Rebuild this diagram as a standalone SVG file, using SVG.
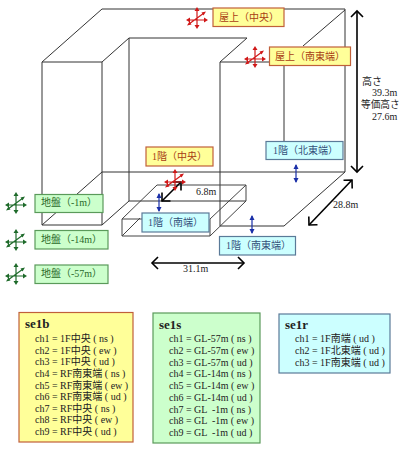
<svg xmlns="http://www.w3.org/2000/svg" width="400" height="451" viewBox="0 0 400 451">
<style>
text{font-family:"Liberation Serif","Noto Sans CJK JP",serif;font-size:10px;white-space:pre;fill:#222}
.b{fill:none;stroke:#333;stroke-width:1}
.f{fill:none;stroke:#444;stroke-width:1}
.dim{fill:none;stroke:#000;stroke-width:1.6;marker-start:url(#open);marker-end:url(#open)}
.y rect{fill:#ffff99;stroke:#c0603a;stroke-width:1.2}
.y text{fill:#a83c14}
.g rect{fill:#ccffcc;stroke:#5a9a5a;stroke-width:1.2}
.g text{fill:#2a6a2a}
.c rect{fill:#ccffff;stroke:#5a7a98;stroke-width:1.2}
.c text{fill:#33507a}
.p text{fill:#222}
.t{font-size:13px;font-weight:bold;fill:#111}
.red{color:#d01818}
.grn{color:#1e6a2a}
.blu{stroke:#1a2fa8;stroke-width:1.2;marker-start:url(#tip);marker-end:url(#tip)}
</style>
<defs>
<marker id="open" markerUnits="userSpaceOnUse" markerWidth="16" markerHeight="16" refX="8" refY="8" viewBox="0 0 16 16" orient="auto-start-reverse"><path d="M2 2L8 8L2 14" fill="none" stroke="#000" stroke-width="1.6"/></marker>
<marker id="tip" markerUnits="userSpaceOnUse" markerWidth="6" markerHeight="6" refX="4" refY="3" viewBox="0 0 6 6" orient="auto-start-reverse"><path d="M0 .5L5 3L0 5.5Z" fill="#1a2fa8"/></marker>
<g id="sensor">
<path d="M0 -9V9M-9 2H9M-8 6L7 -5" fill="none" stroke="currentColor" stroke-width="1.200"/>
<path d="M0 -11L-2.500 -7H2.500ZM0 11L-2.500 7H2.500ZM-11 2L-7 -.5V4.500ZM11 2L7 -.5V4.500ZM-10 7.500L-7.500 3.500L-5.500 6.500ZM9 -6.500L4.500 -5.500L6.500 -2.500Z" fill="currentColor"/>
</g>
</defs>
<g id="connectors">
<path class="b" d="M42 225V62L102 9H345V172L284 226H220V62H269M42 62H102V225H42M102 62L129 38H247L220 62M303 46L345 10M284 65V141M129 38V201M102 172H345M42 225L102 172M102 225L129 201H246"/>
<path class="f" d="M157 185H246V201L210 236H122V219L157 185M122 219H142M246 185L210 219M210 219V236M140 218L122 236"/>
<line class="dim" x1="357" y1="11" x2="357" y2="172"/>
<line class="dim" x1="352" y1="180" x2="309" y2="225"/>
<line class="dim" x1="152" y1="263" x2="244" y2="263"/>
<line class="dim" x1="181" y1="182" x2="162" y2="201"/>
</g>
<g id="dimensions">
<text x="362" y="85">高さ</text>
<text x="372" y="96">39.3m</text>
<text x="361" y="108" style="font-size:9.700px">等価高さ</text>
<text x="372" y="120">27.6m</text>
<text x="333" y="208">28.8m</text>
<text x="183" y="272">31.1m</text>
<text x="196" y="195">6.8m</text>
</g>
<g id="n-roof-center" class="y"><use href="#sensor" class="red" x="197" y="18"/><rect x="213" y="8" width="71" height="18.500"/><text x="219" y="21">屋上（中央）</text></g>
<g id="n-roof-se" class="y"><use href="#sensor" class="red" x="255" y="57"/><rect x="269.500" y="47" width="81" height="18.500"/><text x="275" y="60">屋上（南東端）</text></g>
<g id="n-1f-center" class="y"><use href="#sensor" class="red" x="175" y="180"/><rect x="146" y="147" width="67" height="19"/><text x="152" y="160">1階（中央）</text></g>
<g id="n-1f-ne" class="c"><rect x="266" y="141.500" width="77" height="18"/><text x="273" y="154">1階（北東端）</text><line class="blu" x1="296" y1="165" x2="296" y2="182"/></g>
<g id="n-1f-se" class="c"><rect x="219.500" y="236.500" width="76" height="18.500"/><text x="226" y="249">1階（南東端）</text><line class="blu" x1="252" y1="216" x2="252" y2="233"/></g>
<g id="n-1f-s" class="c"><rect x="142" y="213" width="67" height="19"/><text x="148" y="226">1階（南端）</text><line class="blu" x1="159" y1="194" x2="159" y2="211"/></g>
<g id="n-gl1" class="g"><use href="#sensor" class="grn" x="16" y="203"/><rect x="35" y="194.500" width="68" height="18"/><text x="41" y="206">地盤（-1m）</text></g>
<g id="n-gl14" class="g"><use href="#sensor" class="grn" x="16" y="240"/><rect x="35" y="230.500" width="73" height="18.500"/><text x="41" y="243">地盤（-14m）</text></g>
<g id="n-gl57" class="g"><use href="#sensor" class="grn" x="16" y="274"/><rect x="35" y="265" width="73" height="18.500"/><text x="41" y="277">地盤（-57m）</text></g>
<g id="panel-se1b" class="y p"><rect x="19" y="312.500" width="114" height="129.500"/>
<text class="t" x="25" y="328">se1b</text>
<text x="35" y="342">ch1 = 1F中央 ( ns )</text>
<text x="35" y="353.600">ch2 = 1F中央 ( ew )</text>
<text x="35" y="365.200">ch3 = 1F中央 ( ud )</text>
<text x="35" y="376.900">ch4 = RF南東端 ( ns )</text>
<text x="35" y="388.500">ch5 = RF南東端 ( ew )</text>
<text x="35" y="400.100">ch6 = RF南東端 ( ud )</text>
<text x="35" y="411.800">ch7 = RF中央 ( ns )</text>
<text x="35" y="423.400">ch8 = RF中央 ( ew )</text>
<text x="35" y="435">ch9 = RF中央 ( ud )</text>
</g>
<g id="panel-se1s" class="g p"><rect x="153" y="313" width="107" height="130"/>
<text class="t" x="159" y="329">se1s</text>
<text x="169" y="342">ch1 = GL-57m ( ns )</text>
<text x="169" y="353.700">ch2 = GL-57m ( ew )</text>
<text x="169" y="365.500">ch3 = GL-57m ( ud )</text>
<text x="169" y="377.200">ch4 = GL-14m ( ns )</text>
<text x="169" y="389">ch5 = GL-14m ( ew )</text>
<text x="169" y="400.700">ch6 = GL-14m ( ud )</text>
<text x="169" y="412.500">ch7 = GL  -1m ( ns )</text>
<text x="169" y="424.200">ch8 = GL  -1m ( ew )</text>
<text x="169" y="436">ch9 = GL  -1m ( ud )</text>
</g>
<g id="panel-se1r" class="c p"><rect x="279" y="314" width="111" height="59"/>
<text class="t" x="285" y="329">se1r</text>
<text x="295" y="342">ch1 = 1F南端 ( ud )</text>
<text x="295" y="354">ch2 = 1F北東端 ( ud )</text>
<text x="295" y="366">ch3 = 1F南東端 ( ud )</text>
</g>
</svg>
